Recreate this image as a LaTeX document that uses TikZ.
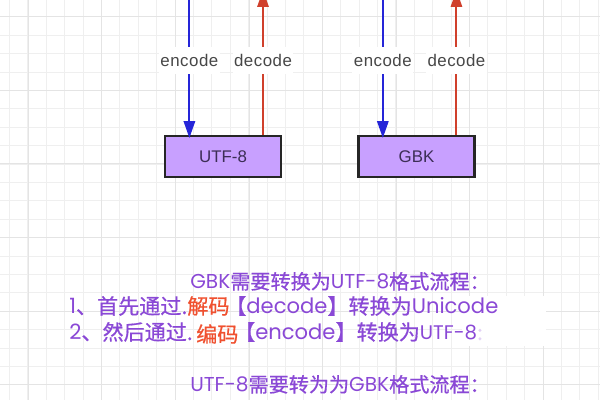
\documentclass[tikz,border=0pt]{standalone}
\usepackage{fontspec}
\setmainfont{Liberation Sans}
\newfontfamily\cjk[FakeBold=0.7]{Noto Sans CJK SC}
\newfontfamily\geo{Poppins}
\newfontfamily\lblfont[LetterSpace=3]{Liberation Sans}
\usepackage{xcolor}
\usetikzlibrary{arrows.meta,positioning}

\definecolor{boxfill}{HTML}{C8A0FF}
\definecolor{boxtext}{HTML}{3C2E55}
\definecolor{encblue}{HTML}{2525D8}
\definecolor{decred}{HTML}{D0402C}
\definecolor{txtpurple}{HTML}{8A48D6}
\definecolor{txtred}{HTML}{F0502F}
\definecolor{gridminor}{HTML}{EFEFEF}
\definecolor{gridmajor}{HTML}{E4E4E4}

\begin{document}
\begin{tikzpicture}[
        x=0.025cm, y=-0.025cm,
        box/.style={draw=black!85,line width=1.7pt,fill=boxfill,text=boxtext,
            minimum width=2.9cm,minimum height=1.02cm,inner sep=0pt,font=\fontsize{12}{14}\selectfont},
        enc/.style={-{Triangle[length=12pt,width=8pt]},encblue,line width=1.4pt},
        dec/.style={-{Triangle[length=12pt,width=8pt]},decred,line width=1.4pt},
        lbl/.style={anchor=base,fill=white,text=black!72,inner xsep=1pt,inner ysep=5pt,font=\lblfont\fontsize{12}{14}\selectfont},
        txt/.style={anchor=base west,inner sep=0pt,text=txtpurple,font=\cjk\fontsize{15}{18}\selectfont},
        title/.style={txt,font=\cjk\fontsize{14.3}{17}\selectfont}
    ]
        \useasboundingbox (0,0) rectangle (600,400);
        \fill[white] (0,0) rectangle (600,400);

        % grid paper
        \foreach \i in {0,...,32}
            \draw[gridminor,line width=0.5pt] (9.3+18.4*\i,0) -- ++(0,400);
        \foreach \j in {0,...,22}
            \draw[gridminor,line width=0.5pt] (0,-1.7+18.4*\j) -- ++(600,0);
        \foreach \i in {0,...,7}
            \draw[gridmajor,line width=0.7pt] (28.3+73.6*\i,0) -- ++(0,400);
        \foreach \j in {0,...,5}
            \draw[gridmajor,line width=0.7pt] (0,16.7+73.6*\j) -- ++(600,0);
        \fill[white] (462,296) rectangle (546,346);

        % charset boxes
        \node[box] (utf) at (223,156.5) {UTF-8};
        \node[box,right=1.875cm of utf] (gbk) {GBK};

        \coordinate (top) at (0,-5);
        \coordinate (tip) at (0,-10);
        \coordinate (lblrow) at (0,66.5);
        \coordinate (utfenc) at ([xshift=0.64cm]utf.north west);
        \coordinate (utfdec) at ([xshift=-0.48cm]utf.north east);
        \coordinate (gbkenc) at ([xshift=0.64cm]gbk.north west);
        \coordinate (gbkdec) at ([xshift=-0.48cm]gbk.north east);

        \draw[enc] (utfenc |- top) -- ([yshift=-0.08cm]utfenc);
        \draw[dec] (utfdec) -- (utfdec |- tip);
        \draw[enc] (gbkenc |- top) -- ([yshift=-0.08cm]gbkenc);
        \draw[dec] (gbkdec) -- (gbkdec |- tip);

        \node[lbl] (utfenclbl) at (utfenc |- lblrow) {encode};
        \node[lbl] (utfdeclbl) at (utfdec |- lblrow) {decode};
        \node[lbl] (gbkenclbl) at (gbkenc |- lblrow) {encode};
        \node[lbl] (gbkdeclbl) at (gbkdec |- lblrow) {decode};

        % conversion notes
        \node[title] (gbk2utf) at (190,289) {{\geo GBK}需要转换为{\geo UTF-8}格式流程：};
        \node[txt] (stepone) at (69,314) {{\geo 1}、首先通过.\textcolor{txtred}{解码}\kern-3pt【{\geo decode}】转换为{\geo Unicode}};
        \node[txt] (steptwo) at (69,340) {{\geo 2}、然后通过.\,\textcolor{txtred}{\raisebox{-1.5pt}{编码}}\kern-3pt【{\geo encode}】转换为{\geo\fontsize{14}{17}\selectfont UTF-8}\textcolor{txtpurple!25}{:}};
        \node[title] (utf2gbk) at (190,392) {{\geo UTF-8}需要转为为{\geo GBK}格式流程：};
    \end{tikzpicture}
\end{document}
